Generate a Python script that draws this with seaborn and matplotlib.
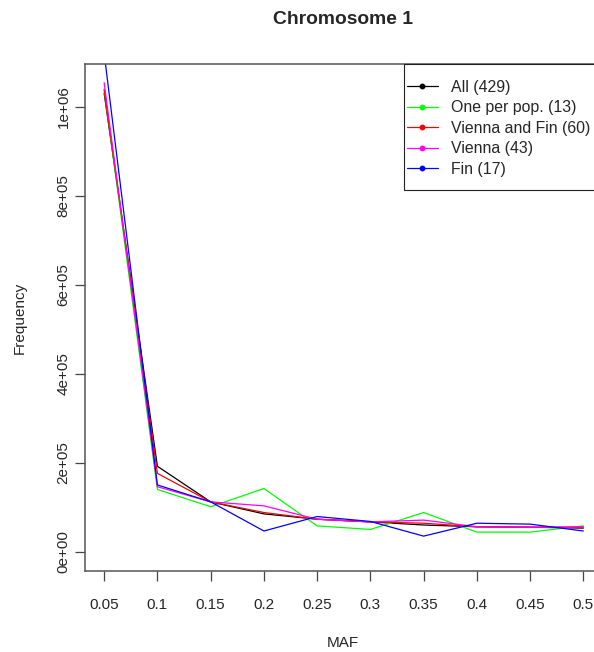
import matplotlib
matplotlib.use("Agg")
import matplotlib.pyplot as plt
from matplotlib.lines import Line2D
from matplotlib.patches import Rectangle
import seaborn as sns
import pandas as pd

maf = [0.05, 0.1, 0.15, 0.2, 0.25, 0.3, 0.35, 0.4, 0.45, 0.5]
all_429 = [1030000, 192000, 112000, 85000, 73000, 67000, 60000, 56000, 55000, 53000]
one_per_pop_13 = [1040000, 140000, 101000, 142000, 58000, 50000, 88000, 44000, 44000, 58000]
vienna_fin_60 = [1038000, 176000, 112000, 88000, 73000, 67000, 64000, 56000, 55000, 55000]
vienna_43 = [1054000, 146000, 112000, 103000, 73000, 67000, 71000, 56000, 55000, 56000]
fin_17 = [1120000, 150000, 112000, 46500, 79000, 68000, 35000, 64000, 62000, 46500]

series_names = ["All (429)", "One per pop. (13)", "Vienna and Fin (60)", "Vienna (43)", "Fin (17)"]
series_values = [all_429, one_per_pop_13, vienna_fin_60, vienna_43, fin_17]
series_colors = ["#000000", "#00FF00", "#FF0000", "#FF00FF", "#0000FF"]

ytick_vals = [0, 200000, 400000, 600000, 800000, 1000000]
ytick_labels = ["0e+00", "2e+05", "4e+05", "6e+05", "8e+05", "1e+06"]
xtick_labels = ["0.05", "0.1", "0.15", "0.2", "0.25", "0.3", "0.35", "0.4", "0.45", "0.5"]

rows = []
for name, vals in zip(series_names, series_values):
    for x, y in zip(maf, vals):
        rows.append({"MAF": x, "Frequency": y, "series": name})
df = pd.DataFrame(rows)

sns.set_theme(style="white")
plt.rcParams["font.family"] = ["Liberation Sans", "DejaVu Sans"]

W, H = 594, 652
fig = plt.figure(figsize=(W / 100, H / 100), dpi=100)
ax = fig.add_axes([85 / W, (H - 570.7) / H, (602.5 - 85) / W, (570.7 - 64.3) / H])

sns.lineplot(data=df, x="MAF", y="Frequency", hue="series", hue_order=series_names,
             palette=dict(zip(series_names, series_colors)), linewidth=0.9,
             legend=False, ax=ax, errorbar=None)

ax.set_xlim(0.032, 0.518)
ax.set_ylim(-42700, 1095300)
ax.set_xticks(maf)
ax.set_xticklabels(xtick_labels, fontsize=11)
ax.set_yticks(ytick_vals)
ax.set_yticklabels(ytick_labels, fontsize=11, rotation=90, va="center")
ax.tick_params(axis="x", direction="out", length=7.5, width=0.9, color="#444444",
               pad=12, bottom=True)
ax.tick_params(axis="y", direction="out", length=7, width=0.9, color="#444444",
               pad=3.5, left=True)
for s in ax.spines.values():
    s.set_color("#555555")
    s.set_linewidth(1.1)

ax.set_xlabel("")
ax.set_ylabel("")
fig.text(343 / W, 1 - 643 / H, "MAF", ha="center", va="center", fontsize=11)
fig.text(20 / W, 1 - 318 / H, "Frequency", ha="center", va="center", fontsize=11, rotation=90)
fig.text(343 / W, 1 - 19 / H, "Chromosome 1", ha="center", va="center",
         fontsize=13.9, fontweight="bold")

# legend box (R style, flush with the plot's top-right corner)
box = Rectangle((404 / W, 1 - 190 / H), (640 - 404) / W, (190 - 64.3) / H,
                transform=fig.transFigure, facecolor="white", edgecolor="#222222",
                linewidth=0.8, zorder=3)
fig.patches.append(box)

handles = [Line2D([0], [0], color=c, lw=0.9, marker="o", markersize=3.2) for c in series_colors]
leg = fig.legend(handles, series_names, loc="upper left",
                 bbox_to_anchor=(404 / W, 1 - 76.5 / H), bbox_transform=fig.transFigure,
                 borderaxespad=0, frameon=False, fontsize=11.4, handlelength=1.95,
                 handletextpad=0.82, labelspacing=0.35, borderpad=0.19)
leg.set_zorder(5)

fig.savefig("out.png", dpi=100)
